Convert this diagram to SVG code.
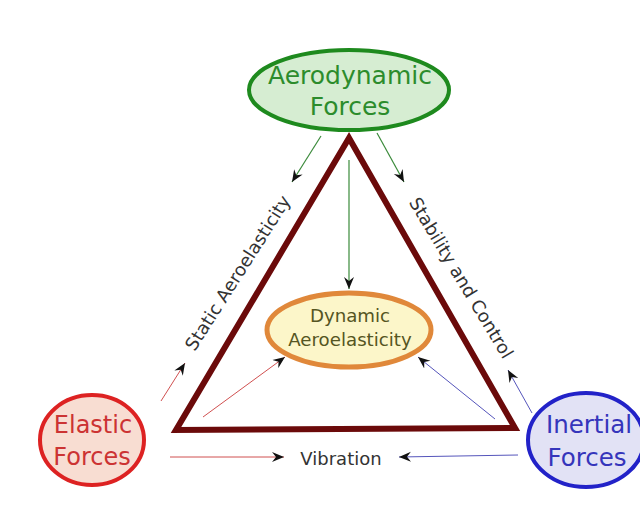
<svg xmlns="http://www.w3.org/2000/svg" width="640" height="531" viewBox="0 0 640 531">
<defs>
<marker id="ah" viewBox="-12 -6 14 12" markerWidth="14" markerHeight="12" refX="0" refY="0" orient="auto" markerUnits="userSpaceOnUse">
<path d="M0,0 L-12,-5 L-8,0 L-12,5 Z" fill="#111"/>
</marker>
</defs>
<style>
text{font-family:"DejaVu Sans","Liberation Sans",sans-serif;text-anchor:middle}
.g{stroke:#3a8a3a;stroke-width:1.2;fill:none}
.r{stroke:#d05050;stroke-width:1;fill:none}
.b{stroke:#5555bb;stroke-width:1;fill:none}
.lbl{font-size:18px;fill:#333}
</style>
<rect width="640" height="531" fill="#fff"/>
<g id="triangle">
<path d="M349,138 L176,430 L515,428 Z" fill="none" stroke="#6b0a0a" stroke-width="6" stroke-linejoin="miter"/>
</g>
<g id="connectors">
<line class="g" x1="321" y1="136" x2="292" y2="182" marker-end="url(#ah)"/>
<line class="g" x1="377" y1="133" x2="404" y2="182" marker-end="url(#ah)"/>
<line class="g" x1="349" y1="160" x2="349" y2="289" marker-end="url(#ah)"/>
<line class="r" x1="161" y1="401" x2="185" y2="363" marker-end="url(#ah)"/>
<line class="r" x1="203" y1="417" x2="285" y2="357" marker-end="url(#ah)"/>
<line class="r" x1="170" y1="457" x2="284" y2="457" marker-end="url(#ah)"/>
<line class="b" x1="518" y1="455" x2="399" y2="457" marker-end="url(#ah)"/>
<line class="b" x1="495" y1="419" x2="418" y2="357" marker-end="url(#ah)"/>
<line class="b" x1="532" y1="413" x2="508" y2="370" marker-end="url(#ah)"/>
</g>
<g id="labels">
<text class="lbl" transform="translate(238,273) rotate(-57.5)" dy="6">Static Aeroelasticity</text>
<text class="lbl" transform="translate(461,278) rotate(59)" dy="6">Stability and Control</text>
<text class="lbl" x="341" y="465" font-size="17.5">Vibration</text>
</g>
<g id="aerodynamic">
<ellipse cx="349" cy="90" rx="100" ry="40" fill="#d6edd2" stroke="#1e8a1e" stroke-width="4"/>
<text x="350" y="84" font-size="25" fill="#2c8c2c">Aerodynamic</text>
<text x="350" y="115" font-size="25" fill="#2c8c2c">Forces</text>
</g>
<g id="dynamic">
<ellipse cx="349" cy="330" rx="82" ry="37" fill="#fcf6c9" stroke="#e0883a" stroke-width="5"/>
<text x="350" y="322" font-size="18.2" fill="#555522">Dynamic</text>
<text x="350" y="346" font-size="18.2" fill="#555522">Aeroelasticity</text>
</g>
<g id="elastic">
<ellipse cx="92" cy="440" rx="52" ry="45" fill="#f8ddd2" stroke="#dd2222" stroke-width="4"/>
<text x="93" y="433" font-size="24" fill="#cc3333">Elastic</text>
<text x="92" y="465" font-size="24" fill="#cc3333">Forces</text>
</g>
<g id="inertial">
<ellipse cx="586" cy="440" rx="58" ry="47" fill="#e2e2f5" stroke="#2222c8" stroke-width="4"/>
<text x="589" y="433" font-size="24.5" fill="#3535bb">Inertial</text>
<text x="587" y="466" font-size="24.5" fill="#3535bb">Forces</text>
</g>
</svg>
